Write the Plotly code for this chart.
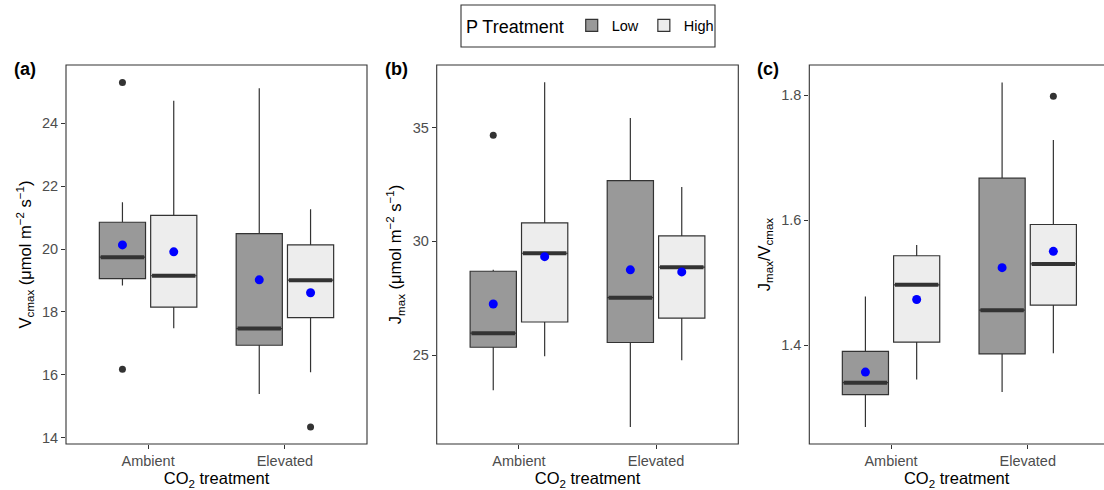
import plotly.graph_objects as go

# ---------------- data ----------------
categories = ["Ambient", "Elevated"]
p_levels = ["Low", "High"]

# five-number summaries per CO2 category: [lower whisker, Q1, median, Q3, upper whisker]
vcmax_low = [[18.84, 19.06, 19.74, 20.85, 21.49], [15.39, 16.94, 17.47, 20.49, 25.11]]
vcmax_high = [[17.48, 18.15, 19.15, 21.07, 24.71], [16.08, 17.82, 19.01, 20.13, 21.26]]
vcmax_low_mean = [20.13, 19.02]
vcmax_high_mean = [19.91, 18.61]
vcmax_low_out = [[25.29, 16.18], []]
vcmax_high_out = [[], [14.34]]

jmax_low = [[23.46, 25.35, 25.97, 28.69, 28.76], [21.85, 25.56, 27.53, 32.67, 35.42]]
jmax_high = [[24.96, 26.46, 29.48, 30.81, 36.99], [24.78, 26.63, 28.87, 30.24, 32.39]]
jmax_low_mean = [27.25, 28.75]
jmax_high_mean = [29.33, 28.66]
jmax_low_out = [[34.66], []]
jmax_high_out = [[], []]

ratio_low = [[1.269, 1.321, 1.340, 1.390, 1.478], [1.325, 1.386, 1.456, 1.667, 1.820]]
ratio_high = [[1.345, 1.405, 1.4965, 1.543, 1.560], [1.387, 1.464, 1.530, 1.593, 1.728]]
ratio_low_mean = [1.357, 1.524]
ratio_high_mean = [1.473, 1.550]
ratio_low_out = [[], []]
ratio_high_out = [[], [1.798]]

vcmax_ticks = [14, 16, 18, 20, 22, 24]
jmax_ticks = [25, 30, 35]
ratio_ticks = [1.4, 1.6, 1.8]

# ---------------- styling ----------------
FONT = "Liberation Sans, Arial, sans-serif"
DARK = "#333333"
TICKCOL = "#4D4D4D"
FILLS = {"Low": "#999999", "High": "#EDEDED"}
DODGE = 0.1875
BOX_W = 0.3375
W, H = 1104, 490

panels = [
    dict(low=vcmax_low, high=vcmax_high, lm=vcmax_low_mean, hm=vcmax_high_mean,
         lo=vcmax_low_out, ho=vcmax_high_out, ticks=vcmax_ticks,
         yrange=[13.8, 25.85], xrange=[-0.6, 1.6], xdom=[66, 367],
         title="V<sub>cmax</sub> (μmol m<sup>−2</sup> s<sup>−1</sup>)", label="(a)", lx=12),
    dict(low=jmax_low, high=jmax_high, lm=jmax_low_mean, hm=jmax_high_mean,
         lo=jmax_low_out, ho=jmax_high_out, ticks=jmax_ticks,
         yrange=[21.1, 37.75], xrange=[-0.6, 1.6], xdom=[436.7, 738.3],
         title="J<sub>max</sub> (μmol m<sup>−2</sup> s<sup>−1</sup>)", label="(b)", lx=383),
    dict(low=ratio_low, high=ratio_high, lm=ratio_low_mean, hm=ratio_high_mean,
         lo=ratio_low_out, ho=ratio_high_out, ticks=ratio_ticks,
         yrange=[1.242, 1.848], xrange=[-0.598, 1.558], xdom=[809.3, 1104],
         title="J<sub>max</sub>/V<sub>cmax</sub>", label="(c)", lx=755),
]

ytop_px, ybot_px = 65, 444
ydom = [1 - ybot_px / H, 1 - ytop_px / H]

fig = go.Figure()
layout = dict(
    width=W, height=H, margin=dict(l=0, r=0, t=0, b=0),
    paper_bgcolor="white", plot_bgcolor="white",
    font=dict(family=FONT, color="black"),
    boxmode="overlay", showlegend=True,
    shapes=[], annotations=[],
)

for i, p in enumerate(panels):
    n = "" if i == 0 else str(i + 1)
    xa, ya = "x" + n, "y" + n
    for g, stats, means, outs, sign in [("Low", p["low"], p["lm"], p["lo"], -1),
                                        ("High", p["high"], p["hm"], p["ho"], 1)]:
        xs = [k + sign * DODGE for k in range(len(categories))]
        fig.add_trace(go.Box(
            x=xs, lowerfence=[s[0] for s in stats], q1=[s[1] for s in stats],
            median=[s[2] for s in stats], q3=[s[3] for s in stats],
            upperfence=[s[4] for s in stats],
            width=BOX_W, whiskerwidth=0, fillcolor=FILLS[g],
            line=dict(color=DARK, width=1.2), name=g, legendgroup=g,
            showlegend=(i == 0), boxpoints=False, hoverinfo="skip",
            xaxis=xa, yaxis=ya))
        # thick median lines
        mx, my = [], []
        for x, s in zip(xs, stats):
            mx += [x - BOX_W / 2 + 0.01, x + BOX_W / 2 - 0.01, None]
            my += [s[2], s[2], None]
        fig.add_trace(go.Scatter(x=mx, y=my, mode="lines",
                                 line=dict(color=DARK, width=4), showlegend=False,
                                 hoverinfo="skip", xaxis=xa, yaxis=ya))
        # outliers
        ox, oy = [], []
        for x, o in zip(xs, outs):
            ox += [x] * len(o)
            oy += o
        if ox:
            fig.add_trace(go.Scatter(x=ox, y=oy, mode="markers",
                                     marker=dict(color=DARK, size=7), showlegend=False,
                                     hoverinfo="skip", xaxis=xa, yaxis=ya))
        # means
        fig.add_trace(go.Scatter(x=xs, y=means, mode="markers",
                                 marker=dict(color="#0000FF", size=9), showlegend=False,
                                 hoverinfo="skip", xaxis=xa, yaxis=ya))

    xdom = [p["xdom"][0] / W, p["xdom"][1] / W]
    layout["xaxis" + n] = dict(
        domain=xdom, anchor=ya, range=p["xrange"], tickmode="array",
        tickvals=list(range(len(categories))), ticktext=categories,
        ticks="outside", ticklen=4, tickwidth=1.1, tickcolor=DARK,
        tickfont=dict(size=14.5, color=TICKCOL, family=FONT),
        showgrid=False, zeroline=False, showline=False, automargin=False,
        title=dict(text="CO<sub>2</sub> treatment", font=dict(size=16.5, color="black"),
                   standoff=4),
    )
    layout["yaxis" + n] = dict(
        domain=ydom, anchor=xa, range=p["yrange"], tickmode="array",
        tickvals=p["ticks"], ticks="outside", ticklen=4, tickwidth=1.1, tickcolor=DARK,
        tickfont=dict(size=14.5, color=TICKCOL, family=FONT),
        showgrid=False, zeroline=False, showline=False, automargin=False,
        title=dict(text=p["title"], font=dict(size=16.5, color="black"), standoff=6),
    )
    x1 = xdom[1] if i < 2 else 1.02
    layout["shapes"].append(dict(type="rect", xref="paper", yref="paper",
                                 x0=xdom[0], x1=x1, y0=ydom[0], y1=ydom[1],
                                 line=dict(color=DARK, width=1.1), layer="above"))
    layout["annotations"].append(dict(text="<b>" + p["label"] + "</b>", xref="paper",
                                      yref="paper", x=p["lx"] / W, y=1 - 68.5 / H,
                                      xanchor="left", yanchor="middle", showarrow=False,
                                      font=dict(size=18, color="black")))

# legend frame
layout["shapes"].append(dict(type="rect", xref="paper", yref="paper",
                             x0=461 / W, x1=715 / W, y0=1 - 47 / H, y1=1 - 5 / H,
                             line=dict(color=DARK, width=1.1), fillcolor="rgba(0,0,0,0)",
                             layer="above"))
layout["legend"] = dict(
    orientation="h", x=464 / W, xanchor="left", y=1 - 26.5 / H, yanchor="middle",
    borderwidth=0, bgcolor="rgba(0,0,0,0)",
    title=dict(text="P Treatment", font=dict(size=18, color="black"), side="left"),
    font=dict(size=14.5, color="black"),
)

fig.update_layout(**layout)
fig.write_html("out.html")
